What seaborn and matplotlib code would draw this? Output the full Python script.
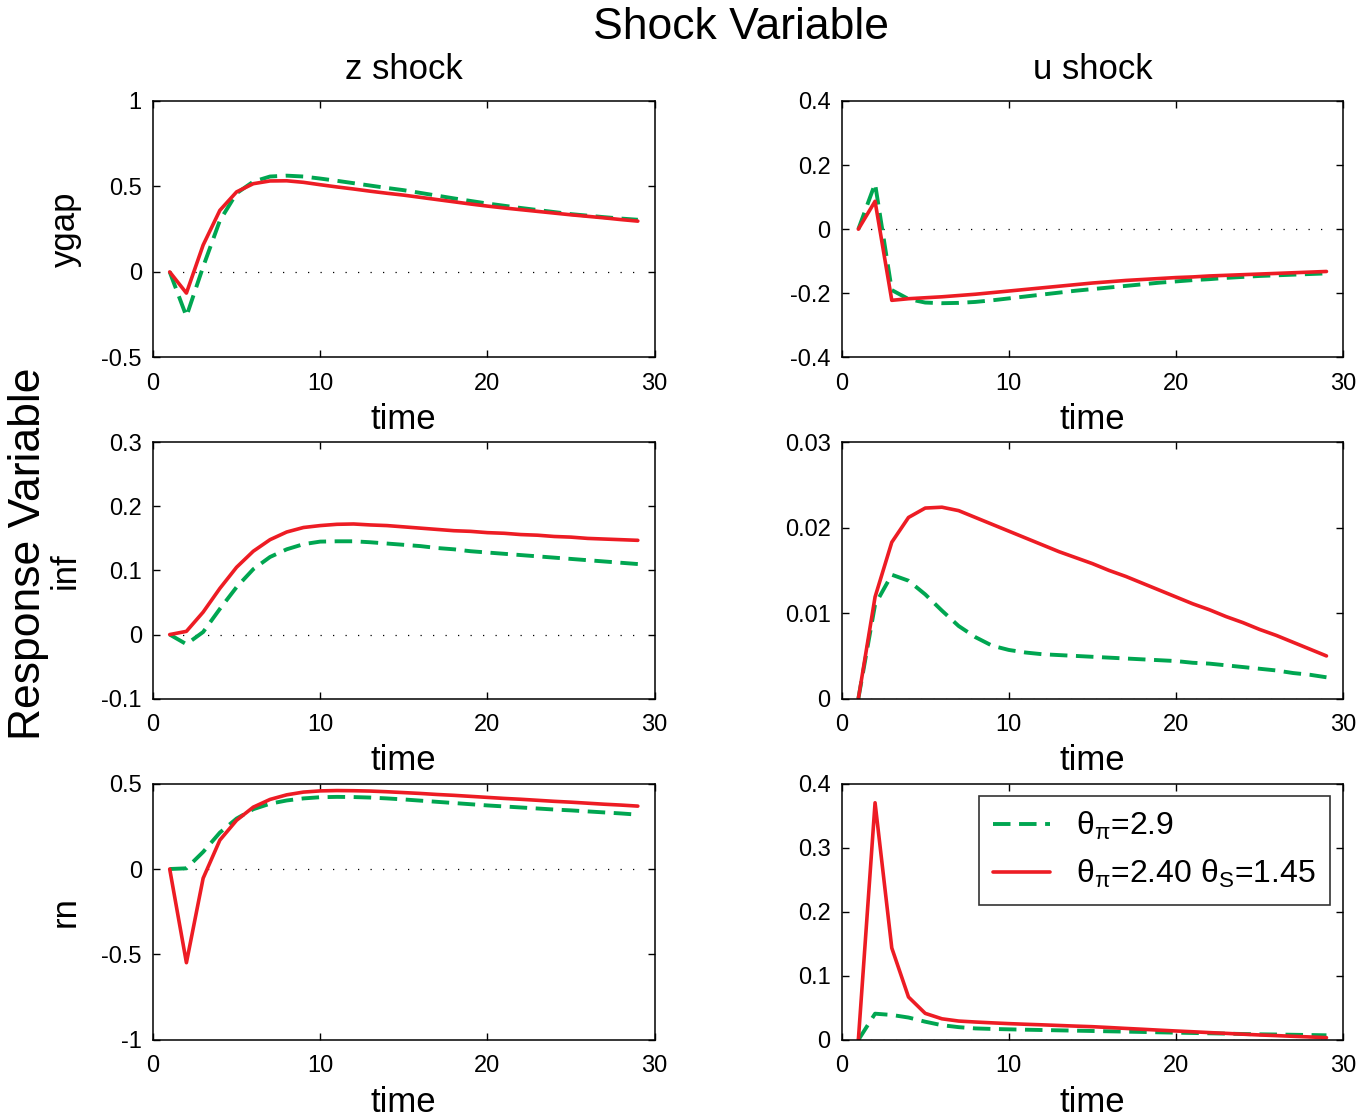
import numpy as np
import pandas as pd
import seaborn as sns
import matplotlib.pyplot as plt
from matplotlib.ticker import FormatStrFormatter

# data (periods 1..29)

time = list(range(1, 30))

ygap_z_taylor = [0, -0.26, 0.03, 0.30, 0.46, 0.528, 0.558, 0.563, 0.558, 0.546, 0.533, 0.519, 0.505, 0.491, 0.478,
                 0.462, 0.446, 0.43, 0.415, 0.40, 0.387, 0.374, 0.362, 0.35, 0.338, 0.329, 0.32, 0.312, 0.305]
ygap_z_stock = [0, -0.124, 0.157, 0.36, 0.468, 0.516, 0.532, 0.533, 0.524, 0.51, 0.497, 0.485, 0.472, 0.46, 0.449,
                0.436, 0.423, 0.41, 0.397, 0.385, 0.374, 0.364, 0.354, 0.344, 0.334, 0.325, 0.316, 0.306, 0.297]

ygap_u_taylor = [0, 0.142, -0.19, -0.218, -0.229, -0.231, -0.23, -0.227, -0.222, -0.216, -0.21, -0.204, -0.198, -0.192,
                 -0.187, -0.182, -0.177, -0.172, -0.167, -0.163, -0.159, -0.156, -0.152, -0.149, -0.146, -0.144, -0.142,
                 -0.14, -0.138]
ygap_u_stock = [0, 0.087, -0.222, -0.217, -0.214, -0.211, -0.207, -0.203, -0.198, -0.193, -0.188, -0.183, -0.178, -0.173,
                -0.168, -0.164, -0.16, -0.157, -0.154, -0.151, -0.149, -0.146, -0.144, -0.142, -0.14, -0.138, -0.136,
                -0.134, -0.132]

inf_z_taylor = [0, -0.015, 0.004, 0.04, 0.074, 0.102, 0.121, 0.133, 0.141, 0.145, 0.1455, 0.1455, 0.144, 0.142, 0.14,
                0.138, 0.135, 0.133, 0.13, 0.128, 0.126, 0.124, 0.122, 0.12, 0.118, 0.116, 0.114, 0.112, 0.11]
inf_z_stock = [0, 0.005, 0.035, 0.072, 0.105, 0.13, 0.148, 0.16, 0.167, 0.17, 0.172, 0.1725, 0.171, 0.17, 0.168,
               0.166, 0.164, 0.162, 0.161, 0.159, 0.158, 0.156, 0.155, 0.153, 0.152, 0.15, 0.149, 0.148, 0.147]

inf_u_taylor = [0, 0.011, 0.0145, 0.0138, 0.0122, 0.0103, 0.0085, 0.0072, 0.0062, 0.0057, 0.0054, 0.0052, 0.0051,
                0.005, 0.0049, 0.0048, 0.0047, 0.0046, 0.0045, 0.0044, 0.0042, 0.0041, 0.0039, 0.0037, 0.0035, 0.0033,
                0.003, 0.0028, 0.0025]
inf_u_stock = [0, 0.0119, 0.0183, 0.0212, 0.0223, 0.0224, 0.022, 0.0212, 0.0204, 0.0196, 0.0188, 0.018, 0.0172,
               0.0165, 0.0158, 0.015, 0.0143, 0.0135, 0.0127, 0.0119, 0.0111, 0.0104, 0.0096, 0.0089, 0.0081, 0.0074,
               0.0066, 0.0058, 0.005]

rn_z_taylor = [0, 0.004, 0.1, 0.213, 0.295, 0.35, 0.382, 0.401, 0.413, 0.42, 0.422, 0.421, 0.418, 0.413, 0.407,
               0.4, 0.393, 0.386, 0.379, 0.372, 0.366, 0.36, 0.354, 0.348, 0.343, 0.337, 0.331, 0.325, 0.318]
rn_z_stock = [0, -0.548, -0.054, 0.169, 0.285, 0.362, 0.407, 0.434, 0.45, 0.457, 0.459, 0.458, 0.456, 0.452, 0.447,
              0.442, 0.436, 0.431, 0.425, 0.419, 0.413, 0.408, 0.402, 0.396, 0.391, 0.385, 0.379, 0.374, 0.368]

rn_u_taylor = [0, 0.041, 0.039, 0.035, 0.0285, 0.023, 0.02, 0.018, 0.0172, 0.0166, 0.016, 0.0155, 0.015, 0.0145,
               0.014, 0.0135, 0.013, 0.0125, 0.0119, 0.0114, 0.0109, 0.0104, 0.0099, 0.0093, 0.0088, 0.0085, 0.0081,
               0.0077, 0.0073]
rn_u_stock = [0, 0.37, 0.1435, 0.067, 0.0415, 0.033, 0.0295, 0.028, 0.0267, 0.0255, 0.0245, 0.0236, 0.0226, 0.0216,
              0.0207, 0.0194, 0.018, 0.0167, 0.0153, 0.014, 0.0128, 0.0115, 0.0103, 0.009, 0.0078, 0.0068, 0.0057,
              0.0047, 0.0036]

shock_names = ["z shock", "u shock"]
response_names = ["ygap", "inf", "rn"]
legend_labels = [r"$\theta_\pi$=2.9", r"$\theta_\pi$=2.40 $\theta_S$=1.45"]

panels = [
    [(ygap_z_taylor, ygap_z_stock), (ygap_u_taylor, ygap_u_stock)],
    [(inf_z_taylor, inf_z_stock), (inf_u_taylor, inf_u_stock)],
    [(rn_z_taylor, rn_z_stock), (rn_u_taylor, rn_u_stock)],
]
ylims = [[(-0.5, 1), (-0.4, 0.4)], [(-0.1, 0.3), (0, 0.03)], [(-1, 0.5), (0, 0.4)]]
yticks = [[[-0.5, 0, 0.5, 1], [-0.4, -0.2, 0, 0.2, 0.4]],
          [[-0.1, 0, 0.1, 0.2, 0.3], [0, 0.01, 0.02, 0.03]],
          [[-1, -0.5, 0, 0.5], [0, 0.1, 0.2, 0.3, 0.4]]]

green = "#00a651"
red = "#ed1c24"

sns.set_style("ticks", {"text.color": "black", "axes.labelcolor": "black",
                        "xtick.color": "black", "ytick.color": "black", "axes.edgecolor": "black"})
plt.rcParams['font.family'] = ['Liberation Sans', 'DejaVu Sans']
plt.rcParams['mathtext.default'] = 'regular'
plt.rcParams['axes.unicode_minus'] = False

fig, axes = plt.subplots(3, 2, figsize=(13.72, 11.18), dpi=100)
fig.subplots_adjust(left=0.1115, right=0.979, bottom=0.0698, top=0.9097, wspace=0.373, hspace=0.331)

for r in range(3):
    for c in range(2):
        ax = axes[r, c]
        taylor, stock = panels[r][c]
        # zero reference line
        ax.plot(time, np.zeros(len(time)), color="black", lw=0.9, dashes=(1, 9))
        sns.lineplot(x=time, y=taylor, ax=ax, color=green, lw=2.8, label=legend_labels[0])
        ax.lines[-1].set_dashes((4.5, 2.2))
        sns.lineplot(x=time, y=stock, ax=ax, color=red, lw=2.6, label=legend_labels[1])
        ax.set_xlim(0, 30)
        ax.set_xticks([0, 10, 20, 30])
        ax.set_ylim(*ylims[r][c])
        ax.set_yticks(yticks[r][c])
        ax.yaxis.set_major_formatter(FormatStrFormatter('%g'))
        ax.tick_params(direction="in", top=True, right=True, length=5, width=1, labelsize=17)
        ax.tick_params(axis="x", pad=11)
        ax.tick_params(axis="y", pad=8)
        for s in ax.spines.values():
            s.set_linewidth(1.1)
        ax.set_xlabel("time", fontsize=25, labelpad=6)
        if c == 0:
            ax.set_ylabel(response_names[r], fontsize=25, labelpad=14)
        else:
            ax.set_ylabel("")
        if r == 0:
            ax.set_title(shock_names[c], fontsize=25, pad=16)
        if not (r == 2 and c == 1):
            ax.get_legend().remove()

leg = axes[2, 1].legend(loc="upper right", bbox_to_anchor=(0.974, 0.953), borderaxespad=0,
                        fontsize=23, frameon=True, fancybox=False, edgecolor="black",
                        handlelength=1.8, handletextpad=0.8, labelspacing=0.5, borderpad=0.45)
leg.get_frame().set_linewidth(1.2)

fig.text(0.54, 0.975, "Shock Variable", ha="center", va="center", fontsize=32)
fig.text(0.021, 0.505, "Response Variable", ha="center", va="center", rotation=90, fontsize=32)

plt.savefig("out.png", dpi=100)
